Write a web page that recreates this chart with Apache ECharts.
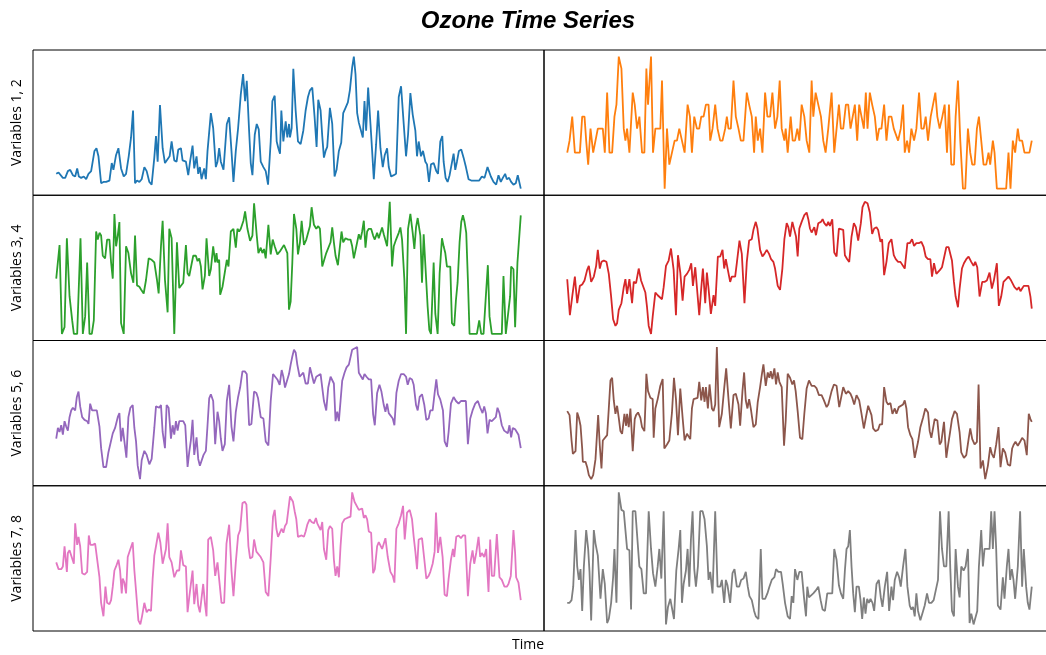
<!DOCTYPE html>
<html lang="en">

<head>
    <meta charset="UTF-8">
    <title>Ozone Time Series</title>
    <script src="https://cdn.jsdelivr.net/npm/echarts@6.0.0/dist/echarts.min.js"></script>
    <style>
        body,
        html {
            background-color: #fff;
            width: 100%;
            height: 100%;
            margin: 0;
        }
    </style>
</head>

<body>
    <div id="chart" style="width: 1046px; height: 655px;"></div>
    <script>
        // each series: [time, value] pairs (value scaled to the panel)
        var var1 = [[0,12],[0.7,13],[1.3,12],[2,9],[2.7,9],[3.5,14],[4.2,15],[5,11],[5.7,10],[6.3,16],[6.8,10],[7.5,9],[8.3,10],[9,8],[9.7,12],[10.5,14],[11,14],[11.5,29],[12.1,31],[12.7,25],[13.5,5],[14.2,6],[15,6],[16,7],[16.7,20],[17.2,15],[18,26],[18.7,31],[19.5,16],[20.3,10],[21,12],[21.8,25],[22.5,39],[23.1,59],[23.7,5],[24.3,7],[25,6],[25.7,8],[26.5,17],[27.2,14],[28,6],[28.7,4],[29.5,24],[30,40],[30.5,21],[31.2,63],[32,31],[32.7,20],[33.3,21],[34.1,25],[34.7,36],[35.5,22],[36.2,21],[36.7,30],[37.5,31],[38,22],[39,21],[39.7,11],[40.3,22],[41,33],[41.5,16],[42.2,25],[42.7,12],[43.2,17],[43.7,8],[44.5,16],[45,8],[45.5,29],[46.5,57],[47.2,46],[48,17],[48.5,21],[49,31],[49.5,21],[50.3,15],[51.3,49],[52,54],[52.7,29],[53.3,6],[54,29],[54.7,46],[55.5,71],[56.2,86],[56.8,66],[57.3,81],[58,44],[58.5,20],[59,11],[59.7,41],[60.3,49],[60.9,45],[61.5,21],[62.3,17],[63,14],[63.7,4],[64.5,36],[65,66],[65.7,70],[66.3,36],[66.8,31],[67.3,27],[67.7,59],[68.3,36],[69,51],[69.5,39],[70,49],[70.3,39],[70.8,46],[71.3,90],[72,59],[72.7,36],[73.5,34],[74.3,44],[75,59],[75.7,69],[76.3,74],[77,76],[77.7,54],[78.3,32],[78.8,67],[79.5,59],[80,40],[80.5,24],[81,29],[81.5,32],[82.3,61],[83,49],[83.7,10],[84.3,15],[85,29],[85.7,35],[86.3,57],[87,61],[87.7,65],[88.3,74],[89,91],[89.5,99],[90,86],[90.5,57],[91,50],[91.5,50],[92.2,39],[92.7,66],[93.2,44],[93.8,76],[94.5,49],[95,29],[95.5,8],[96.2,34],[96.8,59],[97.5,31],[98.2,17],[98.8,26],[99.5,31],[100,17],[100.7,10],[101.5,11],[102.2,12],[103,69],[103.7,77],[104.5,49],[105.2,25],[105.8,41],[106.5,72],[107.2,56],[108,44],[108.5,25],[109,36],[109.7,25],[110.3,29],[111,21],[111.5,19],[112.1,6],[112.7,19],[113.5,20],[114.3,14],[114.8,12],[115.5,36],[116.1,40],[116.5,21],[117.1,9],[117.7,6],[118.3,11],[118.8,10],[119.5,27],[120,15],[120.5,21],[121.1,29],[121.8,30],[122.5,24],[123.2,17],[124,8],[124.8,7],[126,7],[127.2,7],[128,10],[128.8,9],[129.7,17],[130.7,10],[131.5,6],[132.3,4],[133,11],[133.7,6],[134.3,9],[135,12],[135.5,8],[136.2,9],[136.8,6],[137.5,4],[138.2,5],[138.8,11],[139.7,1]];

        var var2 = [[0,3],[0.7,4],[1.5,6],[2.3,3],[3,3],[3.8,3],[4.5,6],[5.2,6],[5.7,4],[6.3,2],[7,5],[7.8,3],[8.5,4],[9.2,5],[10,5],[10.7,5],[11.3,3],[12,8],[12.7,3],[13.5,3],[14.2,6],[14.8,7],[15.5,11],[16.3,10],[17,5],[17.5,4],[18,5],[18.7,3],[19.7,8],[20.3,7],[21,5],[21.7,6],[22.5,3],[23.2,3],[23.8,10],[24.3,7],[25.2,11],[25.8,3],[26.5,5],[27.2,5],[28,5],[28.5,9],[29.3,0],[30,5],[30.7,2],[31.5,3],[32.3,4],[33,4],[33.7,5],[34.5,4],[35.3,3],[36.2,7],[36.9,6],[37.5,3],[38.2,6],[39,5],[39.7,5],[40.3,6],[41,6],[41.7,7],[42.5,7],[43,4],[43.7,5],[44.5,7],[45.2,5],[46,4],[46.7,4],[47.5,5],[48,6],[48.5,5],[49.2,5],[50,9],[50.7,6],[51.5,5],[52.2,4],[53,4],[54,8],[54.7,7],[55.5,6],[56.2,3],[56.7,6],[57.3,4],[58,5],[58.7,3],[59.5,8],[60.2,6],[61,6],[61.7,8],[62.5,5],[63.2,6],[63.9,9],[64.5,5],[65.3,4],[65.7,5],[66.3,3],[67.2,6],[67.8,4],[68.5,4],[69.2,5],[69.8,4],[70.5,7],[71.3,6],[72,4],[72.8,3],[73.5,9],[74,6],[74.7,8],[75.5,7],[76.3,6],[77,4],[77.7,3],[78.5,5],[79.5,8],[80.3,3],[81,5],[81.7,7],[82.3,5],[83,5],[83.8,7],[84.5,7],[85.2,5],[85.8,5],[86.5,7],[87.2,4],[87.8,7],[88.5,6],[89.2,5],[89.8,8],[90.3,5],[91,8],[91.7,7],[92.5,6],[93.2,4],[93.8,5],[94.5,5],[95.3,7],[96,4],[96.7,6],[97.5,6],[98.2,5],[98.8,5],[99.5,4],[100.3,5],[101,7],[101.5,3],[102.2,4],[102.8,3],[103.5,5],[104.3,4],[105,5],[105.8,8],[106.5,5],[107.2,5],[107.8,6],[108.5,4],[109.3,6],[110,7],[110.7,8],[111.3,6],[112,5],[112.8,6],[113.5,7],[114.2,3],[114.8,7],[115.5,2],[116.3,2],[116.8,6],[117.5,9],[118.2,4],[119,0],[119.7,0],[120.5,5],[121.2,3],[121.8,2],[122.5,2],[123.2,5],[123.8,6],[124.5,4],[125.2,2],[126,2],[126.7,3],[127.2,2],[128,4],[128.5,3],[129.2,0],[130.5,0],[132,0],[132.7,3],[133.3,0],[134,4],[134.7,3],[135.5,5],[136,4],[136.8,4],[137.5,3],[138.2,3],[139,3],[139.7,4]];

        var var3 = [[0,42],[1,67],[1.7,1],[2.5,6],[3.2,72],[4,29],[4.8,11],[5.3,1],[6.3,1],[6.8,1],[7.3,72],[8,1],[8.7,14],[9.3,54],[10,1],[10.7,1],[11.3,11],[12,77],[12.5,71],[13,76],[13.5,74],[14,59],[14.7,57],[15.3,71],[16,71],[16.5,54],[17,42],[17.5,90],[18,66],[18.5,74],[19,84],[19.5,9],[20.3,1],[21,66],[21.7,61],[22.5,46],[23.2,39],[23.7,74],[24.3,37],[25,36],[25.5,34],[26.3,31],[27,41],[27.8,57],[28.7,56],[29.5,54],[30.3,41],[30.8,31],[31.5,66],[32,85],[32.7,41],[33.5,17],[34,79],[34.7,72],[35.5,1],[36.3,69],[37,35],[37.5,35],[38.2,39],[39,67],[39.5,46],[40,44],[40.5,45],[41.2,59],[42,59],[42.5,55],[43,57],[43.5,51],[44,34],[44.7,44],[45.2,72],[46,44],[46.5,49],[47.2,66],[47.8,54],[48.2,61],[48.5,54],[49,56],[49.3,30],[50,36],[50.5,36],[51.3,56],[51.8,51],[52.5,77],[53.3,79],[54,65],[54.5,79],[55,77],[55.5,79],[56.3,85],[56.8,92],[57.5,79],[58.3,70],[59,74],[59.5,98],[60.3,74],[60.8,61],[61.5,65],[62,61],[62.5,64],[63,57],[63.8,82],[64.5,60],[65.1,71],[65.7,66],[66.5,60],[67.2,62],[67.8,61],[68.5,67],[69,66],[69.5,61],[70,19],[70.5,25],[71,54],[71.5,90],[72.2,79],[72.7,60],[73.3,69],[73.8,85],[74.5,67],[75.2,71],[75.7,72],[76.3,81],[76.8,95],[77.5,82],[78.2,79],[78.8,81],[79.3,79],[80,51],[80.5,50],[81.2,61],[81.8,61],[82.5,69],[83,80],[83.5,69],[84,59],[84.7,52],[85.2,52],[85.8,77],[86.3,69],[87,72],[87.8,71],[88.5,71],[89,66],[89.5,57],[90,56],[90.5,69],[91,75],[91.5,71],[92,77],[92.5,85],[93,65],[93.5,77],[94,79],[94.7,79],[95.3,74],[95.8,71],[96.5,76],[97,72],[97.5,76],[98,80],[98.5,75],[99,75],[99.5,66],[100.3,99],[101,51],[101.5,66],[102.2,71],[103,76],[103.5,80],[104,71],[104.7,41],[105.2,1],[105.8,79],[106.5,90],[107.2,76],[107.7,64],[108.2,80],[108.7,87],[109.5,74],[110,39],[110.5,75],[111,74],[111.7,21],[112.2,4],[112.7,1],[113.5,54],[114,16],[114.7,1],[115.3,46],[116,72],[116.5,66],[117,61],[117.5,51],[118,52],[118.5,51],[119,9],[119.7,7],[120.2,26],[120.7,39],[121.3,69],[121.8,84],[122.3,89],[122.8,84],[123.3,76],[123.8,41],[124.3,1],[125.5,1],[126.5,1],[127.2,11],[127.8,1],[128.5,1],[129.2,29],[129.8,52],[130.3,14],[131,1],[132.5,1],[134,1],[134.5,44],[135.2,1],[135.8,1],[136.5,29],[136.8,51],[137.5,49],[138,6],[138.7,54],[139.7,89]];

        var var4 = [[0,42],[0.8,15],[1.5,29],[2.3,44],[3,24],[3.8,37],[4.5,38],[5.2,41],[6,49],[6.5,52],[7.2,40],[8,44],[8.7,52],[9.2,64],[9.8,50],[10.3,55],[11,56],[11.8,55],[12.5,46],[13.2,29],[13.8,12],[14.5,7],[15,9],[15.5,19],[16.3,24],[17,36],[17.5,42],[18,31],[18.7,42],[19.5,24],[20,40],[20.7,39],[21.5,50],[22.2,41],[22.8,41],[23.5,32],[24,21],[24.5,7],[25.2,1],[25.7,14],[26.5,32],[27.2,30],[27.8,31],[28.5,27],[29,36],[29.7,52],[30.5,56],[31.2,65],[32,49],[32.7,15],[33.3,60],[34,47],[34.7,26],[35.3,44],[36,46],[36.7,49],[37.3,54],[37.8,37],[38.5,51],[39,52],[39.7,15],[40.2,32],[40.8,50],[41.5,24],[42,47],[42.5,35],[43.2,16],[44,30],[44.5,22],[45.3,59],[46,59],[46.7,64],[47.2,50],[47.7,57],[48.3,49],[49,40],[49.5,44],[50.5,44],[51,54],[51.8,71],[52.5,61],[53.3,24],[54,55],[54.7,71],[55.5,72],[56,79],[56.7,85],[57.2,80],[58,64],[58.7,59],[59.3,61],[60,64],[60.7,61],[61.3,57],[62,55],[62.5,50],[63.3,37],[64,34],[64.7,50],[65.3,72],[66,84],[66.5,81],[67,74],[67.7,85],[68.3,79],[68.8,74],[69.3,59],[69.8,80],[70.5,85],[71.3,90],[72,92],[72.5,87],[73,80],[73.5,77],[74.3,81],[74.8,75],[75.5,84],[76.3,85],[76.8,87],[77.3,84],[78,82],[78.5,85],[79,82],[79.7,87],[80.3,62],[81,59],[81.7,80],[82.3,81],[83,79],[83.5,60],[84.2,57],[84.8,55],[85.5,74],[86.2,84],[86.8,81],[87.5,71],[88.3,84],[88.8,96],[89.5,100],[90.3,99],[91,92],[91.7,76],[92.3,80],[93,81],[93.5,79],[94.2,70],[94.7,72],[95.3,45],[96,55],[96.7,69],[97.5,72],[98.2,60],[98.8,57],[99.5,55],[100.2,55],[100.8,54],[101.5,50],[102.3,69],[103,69],[103.7,72],[104.3,67],[105,69],[105.7,69],[106.5,70],[107.2,66],[107.8,59],[108.5,57],[109.2,57],[109.7,44],[110.3,54],[111,46],[111.5,46],[112.1,49],[112.7,51],[113.3,51],[114,66],[114.7,66],[115.3,65],[115.7,56],[116.3,40],[116.8,29],[117.5,21],[118,35],[118.7,50],[119.3,54],[120,57],[120.7,59],[121.5,55],[122.2,52],[122.7,55],[123.3,51],[124,29],[124.8,40],[125.5,40],[126.2,41],[127,47],[127.7,35],[128.3,41],[129.2,54],[129.8,22],[130.5,29],[131.2,40],[132,42],[132.7,44],[133.5,41],[134,42],[134.5,36],[135.3,34],[135.8,36],[136.3,33],[136.8,35],[137.3,37],[138,37],[138.7,37],[139.3,29],[139.7,20]];

        var var5 = [[0,31],[0.5,39],[1,36],[1.5,41],[2,34],[2.5,44],[3,40],[3.5,37],[4,47],[4.5,52],[5,54],[5.7,52],[6.2,62],[6.7,66],[7.2,55],[7.8,47],[8.5,45],[9.3,44],[9.7,42],[10.2,57],[10.8,52],[11.5,52],[12.2,52],[13,40],[13.5,24],[14.2,10],[15,10],[15.7,21],[16.3,22],[17,35],[17.7,39],[18.5,47],[19,50],[19.5,29],[20,39],[20.5,40],[21.1,17],[21.7,47],[22.3,54],[23,56],[23.5,39],[24,29],[24.5,11],[25.2,1],[25.7,15],[26.5,22],[27.2,19],[28,12],[28.7,16],[29.5,39],[30,55],[31,54],[31.5,56],[32,36],[32.7,24],[33.2,56],[33.8,54],[34.5,31],[35,41],[35.5,34],[36,44],[36.5,37],[37,44],[37.5,44],[38.2,44],[38.8,41],[39.5,10],[40,21],[40.5,30],[41,45],[41.5,19],[42.2,32],[42.7,16],[43.2,11],[43.7,10],[44.3,19],[45,22],[45.5,41],[46,61],[46.5,64],[47.2,59],[47.8,27],[48.5,51],[49,44],[49.5,31],[50,22],[50.7,27],[51.3,59],[52,71],[52.7,40],[53.3,29],[54,51],[54.7,62],[55.3,69],[56,81],[56.7,81],[57.3,79],[58,41],[58.7,42],[59.5,66],[60.2,65],[60.7,61],[61.5,47],[62.3,46],[63,29],[63.8,26],[64.5,59],[65.2,79],[65.8,80],[66.5,75],[67.2,71],[67.8,82],[68.3,77],[68.8,69],[69.3,69],[70,79],[70.5,86],[71,92],[71.5,97],[72,95],[72.5,86],[73.2,77],[73.8,76],[74.3,80],[75,72],[75.7,72],[76.3,84],[76.8,84],[77.5,72],[78.2,77],[78.8,76],[79.5,79],[80,69],[80.5,59],[81.2,52],[81.8,69],[82.5,77],[83,77],[83.5,72],[84,44],[84.5,51],[85,44],[85.5,59],[86,74],[86.7,80],[87.3,84],[88,86],[88.5,87],[89,97],[89.7,98],[90.5,99],[91,80],[91.5,79],[92.2,75],[92.7,79],[93.3,77],[94,75],[94.7,75],[95.3,49],[95.8,41],[96.5,65],[97.2,71],[97.8,66],[98.5,56],[99,51],[99.5,57],[100,50],[100.5,49],[101.2,46],[101.7,41],[102.3,65],[103,74],[103.7,79],[104.5,79],[105.2,77],[105.7,71],[106.3,76],[107,75],[107.5,71],[108.2,56],[108.7,52],[109.3,62],[110,64],[110.7,56],[111.3,45],[112,46],[112.5,52],[113.2,52],[113.8,65],[114.3,75],[114.8,64],[115.5,60],[116.3,52],[116.8,29],[117.5,25],[118,36],[118.7,57],[119.5,62],[120.2,59],[121,57],[121.7,59],[122.5,59],[123.2,59],[123.8,27],[124.5,46],[125.2,52],[126,57],[126.8,59],[127.5,54],[128.2,50],[128.7,55],[129.2,50],[129.7,35],[130.3,45],[131,44],[131.5,44],[132.2,47],[132.7,54],[133.3,50],[134,41],[134.7,37],[135.3,36],[135.8,35],[136.3,41],[136.8,32],[137.3,39],[138,38],[138.5,37],[139,34],[139.7,24]];

        var var6 = [[0,52],[0.7,49],[1.3,30],[1.7,20],[2.5,22],[3,51],[3.5,47],[4,41],[4.5,24],[4.7,14],[5.5,14],[6,10],[6.5,4],[7.2,1],[7.8,4],[8.5,16],[9.3,49],[9.8,26],[10.3,9],[10.7,30],[11.3,30],[12,34],[12.5,54],[13,75],[13.5,77],[14,60],[14.5,50],[15,56],[15.5,47],[16,37],[16.5,35],[17.2,50],[17.7,41],[18,50],[18.5,40],[19,54],[19.7,22],[20.3,46],[20.7,49],[21.3,51],[22,47],[22.5,40],[23.2,37],[23.5,56],[23.8,80],[24.3,67],[25,62],[25.7,61],[26,32],[26.5,54],[27.2,61],[28,71],[28.7,76],[29.2,24],[30,27],[30.7,30],[31.5,51],[32.1,77],[32.7,61],[33.3,34],[34,69],[34.7,47],[35.3,30],[36,35],[36.5,34],[37,31],[37.5,54],[38,61],[38.5,60],[39.2,62],[39.7,74],[40.3,60],[40.8,70],[41.3,59],[41.7,70],[42.3,54],[42.8,72],[43.5,54],[44,52],[44.5,57],[45,100],[45.7,40],[46.5,50],[47.2,69],[47.8,84],[48.5,61],[49.2,39],[50,64],[50.7,65],[51.5,57],[52,41],[52.7,67],[53.2,81],[53.7,60],[54.2,54],[54.7,61],[55.2,54],[56,40],[56.7,42],[57.3,59],[58,70],[58.5,79],[59,87],[59.7,71],[60.3,81],[60.8,77],[61.2,82],[61.7,76],[62.3,84],[62.8,72],[63.3,81],[63.8,74],[64.5,70],[65.2,26],[65.7,45],[66.3,80],[67,77],[67.7,72],[68.2,75],[68.7,67],[69.3,52],[70,32],[70.7,31],[71.3,50],[72,69],[72.7,75],[73.5,71],[74.3,71],[75,69],[75.7,64],[76.5,64],[77.2,60],[78,55],[78.5,57],[79.5,67],[80.2,72],[81,71],[81.8,55],[82.3,54],[83,70],[83.8,65],[84.5,67],[85.2,65],[85.7,62],[86.3,57],[87,64],[87.8,60],[88.5,50],[89.2,39],[89.8,47],[90.5,56],[91,56],[91.5,49],[92,39],[92.7,37],[93.5,38],[94,42],[94.7,42],[95.3,70],[96,59],[96.5,57],[97.2,58],[97.8,50],[98.5,54],[99,50],[99.7,55],[100.3,54],[101,57],[101.5,60],[102,54],[102.5,40],[103.2,34],[103.8,31],[104.5,17],[105,16],[105.5,29],[106.2,40],[107,47],[107.7,54],[108.5,51],[109,37],[109.5,32],[110,31],[110.5,46],[111.3,45],[112,27],[112.5,29],[113.3,44],[114,17],[114.5,26],[115,34],[115.7,46],[116.5,52],[117.2,50],[118,36],[118.5,21],[119.3,17],[120,19],[120.7,31],[121.2,39],[121.8,31],[122.5,27],[123.2,29],[123.7,72],[124.3,9],[125,15],[125.7,1],[126.5,11],[127.2,25],[127.7,20],[128.3,17],[129,27],[129.7,40],[130.3,10],[131,24],[131.7,21],[132.5,12],[133.2,11],[133.8,24],[134.3,27],[134.8,29],[135.5,26],[136.2,29],[136.8,32],[137.5,30],[138.2,19],[138.8,50],[139.3,46],[139.7,44]];

        var var7 = [[0,47],[0.7,42],[1.5,42],[2,44],[2.5,59],[3.2,40],[3.5,54],[4,56],[4.5,57],[5.3,46],[5.7,76],[6.3,60],[6.7,66],[7.2,59],[7.8,39],[8.5,38],[9.3,40],[9.8,67],[10.3,60],[11,60],[11.7,61],[12.3,60],[13,36],[13.5,17],[14.2,7],[14.8,29],[15.3,17],[16,16],[16.5,19],[17,29],[17.5,41],[18,44],[18.7,49],[19.2,41],[19.7,24],[20,35],[20.5,32],[21,24],[21.5,51],[22.3,57],[23,62],[23.5,41],[24,26],[24.7,4],[25.3,1],[25.8,7],[26.5,17],[27.2,10],[27.8,12],[28.5,11],[29,35],[29.5,52],[30,59],[30.7,69],[31.3,62],[32,46],[32.5,45],[33,57],[33.5,76],[34,51],[34.7,47],[35.5,36],[36.3,41],[37,41],[37.5,56],[38.2,45],[39,44],[39.5,10],[40,21],[40.5,31],[41,41],[41.5,16],[42.2,31],[42.7,15],[43.2,10],[43.7,9],[44.2,31],[44.7,17],[45.2,7],[45.7,64],[46.5,66],[47.2,56],[47.8,37],[48.5,47],[49,47],[49.7,17],[50.5,17],[51.2,61],[52,75],[52.7,41],[53.3,22],[54,47],[54.7,67],[55.3,71],[56,91],[56.7,92],[57.2,90],[57.8,59],[58.3,50],[59,51],[59.5,64],[60.2,55],[60.8,54],[61.5,51],[62.3,47],[63,25],[63.8,22],[64.5,50],[65.2,81],[65.7,86],[66.2,72],[66.7,66],[67.2,65],[67.8,72],[68.3,69],[68.8,74],[69.3,76],[69.8,86],[70.3,96],[70.7,97],[71.2,92],[71.7,85],[72.2,79],[72.7,66],[73.2,65],[73.8,67],[74.5,66],[75,70],[75.5,75],[76.2,79],[76.8,77],[77.5,76],[78.1,80],[78.5,76],[79,77],[79.5,71],[80,77],[80.5,57],[81.2,49],[81.8,71],[82.3,74],[83,72],[83.5,49],[84,37],[84.5,44],[85,36],[85.5,59],[86,76],[86.7,79],[87.5,80],[88,81],[88.5,81],[89,99],[89.7,92],[90.3,91],[91,86],[91.5,85],[92,87],[92.5,80],[93,82],[93.5,79],[94,70],[94.7,69],[95.3,39],[95.8,42],[96.5,59],[97,62],[97.5,61],[98,57],[98.5,57],[99,65],[99.7,51],[100.5,40],[101.2,37],[101.7,32],[102.3,72],[103,76],[103.7,82],[104.3,89],[104.8,64],[105.5,84],[106.3,86],[107,79],[107.5,66],[108,55],[108.5,42],[109,64],[109.5,65],[110,65],[110.7,49],[111.3,35],[112,37],[112.5,40],[113.2,46],[113.8,55],[114.2,84],[114.8,54],[115.5,66],[116.2,51],[116.8,23],[117.5,22],[118,35],[118.7,49],[119.3,57],[119.7,51],[120.3,66],[121,67],[121.7,65],[122.3,67],[123,67],[123.8,22],[124.5,46],[125.2,56],[125.7,46],[126.3,54],[127,66],[127.5,51],[128,54],[128.7,51],[129.3,57],[130,25],[130.5,64],[131,37],[131.7,37],[132.5,68],[133.3,36],[134,34],[134.8,29],[135.5,29],[136,31],[136.7,37],[137.5,71],[138,54],[138.3,36],[139,32],[139.7,19]];

        var var8 = [[0,17],[0.7,17],[1.3,19],[1.8,29],[2.5,71],[3,44],[3.5,34],[4,42],[4.5,11],[5,44],[5.7,71],[6.3,57],[6.7,40],[7.2,4],[8,71],[8.5,61],[9.2,52],[10,20],[10.7,42],[11.3,31],[12,2],[12.5,5],[13.2,17],[13.8,36],[14.2,57],[14.8,17],[15.5,99],[16.3,86],[17,85],[17.5,71],[18,57],[18.7,56],[19.2,12],[19.7,85],[20.5,85],[21,85],[21.7,44],[22.3,42],[23,24],[23.7,24],[24.5,85],[25.2,57],[25.8,39],[26.5,29],[27.2,44],[27.7,57],[28.3,35],[29,85],[29.7,1],[30.3,14],[31,20],[31.5,20],[32.1,5],[32.8,41],[33.5,57],[34,71],[34.5,17],[35,31],[35.7,41],[36.2,57],[36.7,29],[37.2,64],[37.7,85],[38.2,42],[38.7,29],[39.3,44],[40,85],[40.7,85],[41.3,79],[42,59],[42.5,34],[43,40],[43.7,24],[44.5,85],[45.2,29],[46,29],[46.5,34],[47.2,17],[47.7,34],[48.2,30],[49,17],[49.7,39],[50.3,42],[51,29],[51.7,29],[52.3,34],[53,35],[53.7,40],[54.3,29],[54.8,22],[55.5,19],[56.2,11],[56.7,7],[57.5,5],[58.2,57],[58.7,20],[59.5,20],[60.2,24],[60.8,29],[61.5,34],[62.3,36],[62.8,42],[63.5,40],[64.3,40],[64.8,31],[65.5,17],[66.3,7],[67,5],[67.5,22],[68,17],[68.5,42],[69.2,34],[69.8,40],[70.5,40],[71.2,21],[71.8,7],[72.2,29],[72.7,21],[73.3,22],[74,24],[74.7,26],[75.5,29],[76.2,19],[76.8,12],[77.5,11],[78.2,24],[79,24],[79.7,24],[80.3,57],[81,49],[81.7,30],[82.3,24],[83,20],[83.5,41],[84,57],[84.5,59],[85,71],[85.5,44],[86,24],[86.5,10],[87,29],[87.7,29],[88.2,19],[88.7,5],[89.2,21],[89.7,9],[90.2,20],[90.7,17],[91.2,20],[91.8,17],[92.3,11],[93,31],[93.7,34],[94.3,21],[94.8,14],[95.5,29],[96.2,40],[96.8,11],[97.5,29],[98,19],[98.5,34],[99.2,40],[99.8,36],[100.3,29],[101,44],[101.7,57],[102.3,29],[103,15],[103.5,12],[104,14],[104.5,7],[105,24],[105.5,11],[106.2,4],[106.8,9],[107.5,15],[108.2,24],[108.8,17],[109.5,17],[110.2,19],[110.8,20],[111.5,34],[112.1,85],[112.7,57],[113.3,44],[114,44],[114.7,85],[115.2,42],[115.7,11],[116.3,7],[116.8,57],[117.5,29],[118,21],[118.5,44],[119.2,41],[119.8,44],[120.5,57],[121,2],[121.5,9],[122.2,1],[122.8,1],[123.3,11],[123.8,44],[124.5,71],[125,44],[125.5,57],[126.3,57],[127,57],[127.5,85],[128,57],[128.5,85],[129,57],[129.5,15],[130.3,12],[131,36],[131.5,20],[132.2,44],[132.7,57],[133.2,34],[133.7,42],[134.2,34],[134.7,20],[135.5,44],[136.2,85],[136.8,29],[137.3,57],[138,29],[138.5,17],[139,12],[139.7,29]];

        var allSeries = [var1, var2, var3, var4, var5, var6, var7, var8];
        var colors = ['#1f77b4', '#ff7f0e', '#2ca02c', '#d62728', '#9467bd', '#8c564b', '#e377c2', '#7f7f7f'];
        var rowLabels = ['Variables 1, 2', 'Variables 3, 4', 'Variables 5, 6', 'Variables 7, 8'];
        var titleText = 'Ozone Time Series';
        var xLabel = 'Time';

        // matplotlib-like 5% margins
        function range(pairs, k) {
            var vals = pairs.map(function (p) { return p[k]; });
            var lo = Math.min.apply(null, vals), hi = Math.max.apply(null, vals);
            var d = (hi - lo) * 0.05;
            return [lo - d, hi + d];
        }

        var rowH = 145.25;
        var grids = [], xAxes = [], yAxes = [], series = [];
        allSeries.forEach(function (s, i) {
            var row = Math.floor(i / 2), col = i % 2;
            grids.push({
                left: col ? 544 : 33, top: 50 + row * rowH, width: 511, height: rowH,
                show: true, borderColor: '#000', borderWidth: 1, backgroundColor: 'transparent',
                containLabel: false, outerBoundsMode: 'none'
            });
            var xr = range(s, 0), yr = range(s, 1);
            xAxes.push({ gridIndex: i, type: 'value', min: xr[0], max: xr[1], show: false });
            yAxes.push({ gridIndex: i, type: 'value', min: yr[0], max: yr[1], show: false });
            series.push({
                type: 'line', xAxisIndex: i, yAxisIndex: i, data: s,
                symbol: 'none', lineStyle: { width: 1.8, color: colors[i] }, itemStyle: { color: colors[i] }
            });
        });

        var labelFont = '14px "Open Sans", "Noto Sans", sans-serif';
        var graphics = [{
            type: 'text', x: 528, y: 21,
            style: { text: titleText, font: 'italic bold 24px "Liberation Sans", Arial, sans-serif', fill: '#000', textAlign: 'center', textVerticalAlign: 'middle', align: 'center', verticalAlign: 'middle' }
        }, {
            type: 'text', x: 528, y: 645,
            style: { text: xLabel, font: labelFont, fill: '#000', textAlign: 'center', textVerticalAlign: 'middle', align: 'center', verticalAlign: 'middle' }
        }];
        rowLabels.forEach(function (t, r) {
            graphics.push({
                type: 'text', x: 17.5, y: 50 + r * rowH + rowH / 2, rotation: Math.PI / 2,
                style: { text: t, font: labelFont, fill: '#000', textAlign: 'center', textVerticalAlign: 'middle', align: 'center', verticalAlign: 'middle' }
            });
        });

        var myChart = echarts.init(document.getElementById('chart'));
        myChart.setOption({
            animation: false,
            backgroundColor: '#fff',
            grid: grids,
            xAxis: xAxes,
            yAxis: yAxes,
            series: series,
            graphic: graphics
        });
    </script>
</body>

</html>
